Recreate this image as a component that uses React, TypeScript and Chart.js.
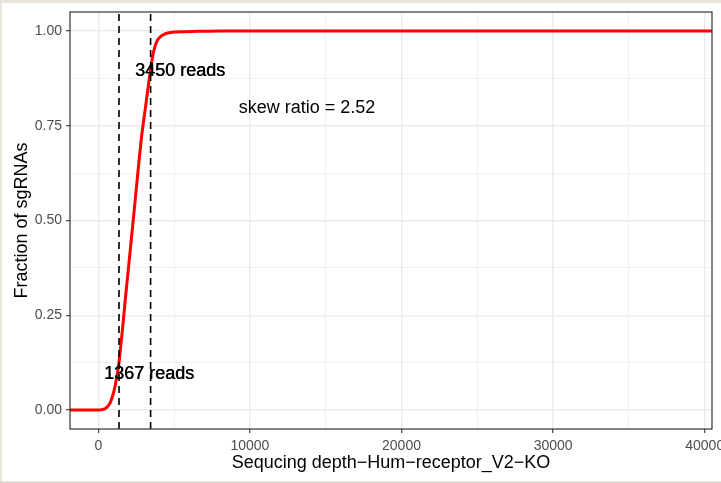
import React, { useEffect, useRef } from "react";
import { Chart, registerables } from "chart.js";

Chart.register(...registerables);

// ECDF of read counts per sgRNA
const depthReads = [-1867, 0, 250, 500, 770, 1000, 1100, 1367, 1430, 1600, 1760, 2090, 2400, 2860, 3100, 3300, 3450, 3630, 3890, 4200, 4510, 5000, 5400, 6500, 8000, 40480];
const fractionSgRNAs = [0, 0, 0.001, 0.005, 0.018, 0.045, 0.062, 0.125, 0.15, 0.215, 0.283, 0.415, 0.54, 0.723, 0.795, 0.855, 0.899, 0.943, 0.975, 0.988, 0.994, 0.997, 0.998, 0.999, 1, 1];

// 10% / 90% quantile lines and their labels
const quantileReads = [1367, 3450];
const quantileLabels = ["1367 reads", "3450 reads"];
const quantileLabelX = [3344, 5390];
const quantileLabelY = [0.095, 0.895];

const skewLabel = "skew ratio = 2.52";
const skewLabelX = 13770;
const skewLabelY = 0.797;

const xRange = [-1867, 40480];
const yRange = [-0.05, 1.05];
const xGridTicks = [0, 5000, 10000, 15000, 20000, 25000, 30000, 35000, 40000];
const xMajorTicks = [0, 10000, 20000, 30000, 40000];
const yGridTicks = [0, 0.125, 0.25, 0.375, 0.5, 0.625, 0.75, 0.875, 1];
const yMajorTicks = [0, 0.25, 0.5, 0.75, 1];

const xTitle = "Sequcing depth\u2212Hum\u2212receptor_V2\u2212KO";
const yTitle = "Fraction of sgRNAs";

const FONT = '"Liberation Sans", Arial, sans-serif';

const isMajor = (v: number, majors: number[]) => majors.some((m) => Math.abs(m - v) < 1e-9);

const framePlugin = {
  id: "frame",
  beforeDraw(chart: any) {
    const { ctx, width, height } = chart;
    ctx.save();
    ctx.fillStyle = "#d6d3ca";
    ctx.fillRect(0, 0, width, height);
    ctx.fillStyle = "#e9e5da";
    ctx.fillRect(0, 0, width, 3);
    ctx.fillRect(0, 0, 2, height - 2);
    ctx.fillStyle = "#ffffff";
    ctx.fillRect(2, 3, width - 2, height - 4.5);
    ctx.restore();
  },
};

const annotationPlugin = {
  id: "annot",
  afterDatasetsDraw(chart: any) {
    const { ctx, scales } = chart;
    const x = scales.x;
    const y = scales.y;
    ctx.save();
    ctx.font = `18px ${FONT}`;
    ctx.fillStyle = "#000000";
    ctx.textAlign = "center";
    ctx.textBaseline = "middle";
    quantileLabels.forEach((t, i) => {
      const px = x.getPixelForValue(quantileLabelX[i]);
      const py = y.getPixelForValue(quantileLabelY[i]);
      ctx.fillText(t, px, py);
      ctx.fillText(t, px + 0.5, py);
    });
    ctx.fillText(skewLabel, x.getPixelForValue(skewLabelX), y.getPixelForValue(skewLabelY));
    ctx.restore();
  },
  afterDraw(chart: any) {
    const { ctx, chartArea } = chart;
    ctx.save();
    ctx.strokeStyle = "#333333";
    ctx.lineWidth = 1.2;
    ctx.strokeRect(chartArea.left, chartArea.top, chartArea.right - chartArea.left, chartArea.bottom - chartArea.top);
    ctx.restore();
  },
};

export default function App() {
  const ref = useRef<HTMLCanvasElement | null>(null);

  useEffect(() => {
    if (!ref.current) return;
    const curve = depthReads.map((v, i) => ({ x: v, y: fractionSgRNAs[i] }));
    const vlines = quantileReads.map((q) => ({
      type: "line" as const,
      data: [
        { x: q, y: yRange[0] },
        { x: q, y: yRange[1] },
      ],
      borderColor: "#000000",
      borderWidth: 1.6,
      borderDash: [7, 5],
      pointRadius: 0,
      fill: false,
    }));
    const chart = new Chart(ref.current, {
      type: "line",
      data: {
        datasets: [
          ...vlines,
          {
            data: curve,
            borderColor: "#ff0000",
            borderWidth: 3,
            pointRadius: 0,
            fill: false,
            cubicInterpolationMode: "monotone",
          },
        ],
      },
      options: {
        responsive: false,
        animation: false,
        devicePixelRatio: 1,
        layout: { padding: { left: 0, right: 9, top: 12, bottom: 0 } },
        plugins: { legend: { display: false }, tooltip: { enabled: false } },
        scales: {
          x: {
            type: "linear",
            min: xRange[0],
            max: xRange[1],
            afterBuildTicks: (axis: any) => {
              axis.ticks = xGridTicks.map((v) => ({ value: v }));
            },
            afterFit: (axis: any) => {
              axis.height = 54;
              axis.paddingLeft = 0;
              axis.paddingRight = 0;
            },
            ticks: {
              autoSkip: false,
              maxRotation: 0,
              minRotation: 0,
              padding: 5,
              color: "#4d4d4d",
              font: { family: FONT, size: 14 },
              callback: (v: any) => (isMajor(Number(v), xMajorTicks) ? String(v) : ""),
            },
            grid: {
              color: "#ebebeb",
              lineWidth: (c: any) => (c.tick && isMajor(c.tick.value, xMajorTicks) ? 1.4 : 0.7),
              tickLength: 4,
              tickWidth: 1.1,
              tickColor: (c: any) => (c.tick && isMajor(c.tick.value, xMajorTicks) ? "#333333" : "rgba(0,0,0,0)"),
            },
            border: { display: false },
            title: {
              display: true,
              text: xTitle,
              color: "#000000",
              font: { family: FONT, size: 18 },
              padding: { top: 0, bottom: 9 },
            },
          },
          y: {
            type: "linear",
            min: yRange[0],
            max: yRange[1],
            afterBuildTicks: (axis: any) => {
              axis.ticks = yGridTicks.map((v) => ({ value: v }));
            },
            afterFit: (axis: any) => {
              axis.width = 70;
              axis.paddingTop = 0;
              axis.paddingBottom = 0;
            },
            ticks: {
              autoSkip: false,
              padding: 4,
              color: "#4d4d4d",
              font: { family: FONT, size: 14 },
              callback: (v: any) => (isMajor(Number(v), yMajorTicks) ? Number(v).toFixed(2) : ""),
            },
            grid: {
              color: "#ebebeb",
              lineWidth: (c: any) => (c.tick && isMajor(c.tick.value, yMajorTicks) ? 1.4 : 0.7),
              tickLength: 4,
              tickWidth: 1.1,
              tickColor: (c: any) => (c.tick && isMajor(c.tick.value, yMajorTicks) ? "#333333" : "rgba(0,0,0,0)"),
            },
            border: { display: false },
            title: {
              display: true,
              text: yTitle,
              color: "#000000",
              font: { family: FONT, size: 18 },
              padding: { top: 11, bottom: 0 },
            },
          },
        },
      },
      plugins: [framePlugin, annotationPlugin],
    } as any);
    return () => chart.destroy();
  }, []);

  return (
    <div style={{ position: "fixed", left: 0, top: 0, width: 721, height: 483 }}>
      <canvas ref={ref} width={721} height={483} style={{ display: "block", width: 721, height: 483 }} />
    </div>
  );
}
